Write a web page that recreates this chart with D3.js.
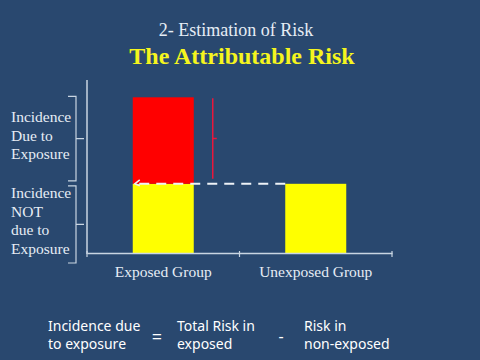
<!DOCTYPE html>
<html>
<head>
<meta charset="utf-8">
<script src="https://cdn.jsdelivr.net/npm/d3@7"></script>
<style>
  html, body { margin: 0; padding: 0; background: #29486f; }
  svg { display: block; }
</style>
</head>
<body>
<script>
// Chart data
const groups = ["Exposed Group", "Unexposed Group"];
const baseRisk = [10, 10];      // incidence NOT due to exposure
const excessRisk = [12.5, 0];   // incidence due to exposure
const leftLabelsTop = ["Incidence", "Due to", "Exposure"];
const leftLabelsBottom = ["Incidence", "NOT", "due to", "Exposure"];

const W = 480, H = 360;
const textColor = "#e6edf5";
const axisColor = "#c9d5e2";
const serif = "'Liberation Serif', 'DejaVu Serif', serif";
const sans = "'Noto Sans', 'Open Sans', sans-serif";

const svg = d3.select("body").append("svg")
    .attr("width", W)
    .attr("height", H);

svg.append("rect").attr("width", W).attr("height", H).attr("fill", "#29486f");

// Titles
svg.append("text")
    .attr("x", 236).attr("y", 36)
    .attr("text-anchor", "middle")
    .style("font-family", serif)
    .style("font-size", "18px")
    .attr("fill", textColor)
    .text("2- Estimation of Risk");

svg.append("text")
    .attr("x", 242).attr("y", 64)
    .attr("text-anchor", "middle")
    .style("font-family", serif)
    .style("font-size", "24px")
    .style("font-weight", "bold")
    .attr("fill", "#f5f51e")
    .text("The Attributable Risk");

// Scales
const x = d3.scaleBand()
    .domain(groups)
    .range([87, 392])
    .paddingInner(0.6)
    .paddingOuter(0.3);

const y = d3.scaleLinear()
    .domain([0, 25])
    .range([253, 80]);

// Bars: yellow base, red excess on top
const rows = groups.map((g, i) => ({ g, base: baseRisk[i], excess: excessRisk[i] }));

svg.selectAll("rect.base")
    .data(rows)
    .enter().append("rect")
    .attr("class", "base")
    .attr("x", d => x(d.g))
    .attr("y", d => y(d.base))
    .attr("width", x.bandwidth())
    .attr("height", d => y(0) - y(d.base))
    .attr("fill", "#ffff00");

svg.selectAll("rect.excess")
    .data(rows.filter(d => d.excess > 0))
    .enter().append("rect")
    .attr("class", "excess")
    .attr("x", d => x(d.g))
    .attr("y", d => y(d.base + d.excess))
    .attr("width", x.bandwidth())
    .attr("height", d => y(d.base) - y(d.base + d.excess))
    .attr("fill", "#ff0000");

// Axes
const xAxis = svg.append("g")
    .attr("transform", `translate(0,${y(0)})`)
    .call(d3.axisBottom(x).tickSize(0).tickPadding(13));
xAxis.select(".domain").attr("stroke", axisColor).attr("stroke-width", 1.5);
xAxis.selectAll("text")
    .style("font-family", serif)
    .style("font-size", "15.5px")
    .attr("fill", textColor);

// small ticks at category boundaries
const step = x.step();
const bounds = [x.range()[0], x(groups[0]) + x.bandwidth() + step * x.paddingInner() / 2, x.range()[1]];
svg.selectAll("line.btick")
    .data(bounds)
    .enter().append("line")
    .attr("x1", d => d).attr("x2", d => d)
    .attr("y1", y(0) - 2).attr("y2", y(0) + 4)
    .attr("stroke", axisColor).attr("stroke-width", 1.2);

svg.append("line")
    .attr("x1", 87).attr("x2", 87)
    .attr("y1", y(25)).attr("y2", y(0) + 1)
    .attr("stroke", axisColor).attr("stroke-width", 1.5);

// Right-facing braces on the left side
function brace(x0, top, bottom, hook, tip) {
    const mid = (top + bottom) / 2;
    return `M${x0 - hook},${top} L${x0},${top} L${x0},${mid} L${x0 + tip},${mid} M${x0},${mid} L${x0},${bottom} L${x0 - hook},${bottom}`;
}

const total0 = baseRisk[0] + excessRisk[0];
svg.append("path")
    .attr("d", brace(76, y(total0) - 1, y(baseRisk[0]) - 3, 8, 8))
    .attr("fill", "none").attr("stroke", axisColor).attr("stroke-width", 1.2);
svg.append("path")
    .attr("d", brace(76, y(baseRisk[0]) + 2, y(0) + 10, 8, 8))
    .attr("fill", "none").attr("stroke", axisColor).attr("stroke-width", 1.2);

// Left labels
const lt = svg.append("text")
    .style("font-family", serif)
    .style("font-size", "15.5px")
    .attr("fill", textColor);
leftLabelsTop.forEach((t, i) => {
    lt.append("tspan").attr("x", 11).attr("y", 122 + i * 18.5).text(t);
});
const lb = svg.append("text")
    .style("font-family", serif)
    .style("font-size", "15.5px")
    .attr("fill", textColor);
leftLabelsBottom.forEach((t, i) => {
    lb.append("tspan").attr("x", 11).attr("y", 198 + i * 18.7).text(t);
});

// Red bracket showing excess risk
const rx = x(groups[0]) + x.bandwidth() + 19;
const rTop = y(total0) + 1, rBot = y(baseRisk[0]) - 5;
svg.append("path")
    .attr("d", `M${rx},${rTop} L${rx},${rBot} M${rx},${(rTop + rBot) / 2} L${rx + 4},${(rTop + rBot) / 2}`)
    .attr("fill", "none").attr("stroke", "#e8173c").attr("stroke-width", 1.5);

// Dashed arrow from unexposed bar top to exposed bar
const ay = y(baseRisk[1]);
const ax0 = x(groups[1]), ax1 = x(groups[0]) + 1;
svg.append("line")
    .attr("x1", ax0).attr("x2", ax1 + 4)
    .attr("y1", ay).attr("y2", ay)
    .attr("stroke", "#eef2f7").attr("stroke-width", 2)
    .attr("stroke-dasharray", "10,7");
svg.append("path")
    .attr("d", `M${ax1 + 6},${ay - 4} L${ax1 + 1},${ay} L${ax1 + 6},${ay + 2}`)
    .attr("fill", "none").attr("stroke", "#eef2f7").attr("stroke-width", 1.5);

// Formula at the bottom
const formula = [
    { x: 48, lines: ["Incidence due", "to exposure"] },
    { x: 177, lines: ["Total Risk in", "exposed"] },
    { x: 304, lines: ["Risk in", "non-exposed"] }
];
formula.forEach(f => {
    const t = svg.append("text")
        .style("font-family", sans)
        .style("font-size", "14px")
        .attr("fill", "#ffffff");
    f.lines.forEach((s, i) => {
        t.append("tspan").attr("x", f.x).attr("y", 331 + i * 18).text(s);
    });
});
svg.append("text")
    .attr("x", 157).attr("y", 343)
    .attr("text-anchor", "middle")
    .style("font-family", sans).style("font-size", "18px")
    .attr("fill", "#ffffff")
    .text("=");
svg.append("text")
    .attr("x", 281).attr("y", 342)
    .attr("text-anchor", "middle")
    .style("font-family", sans).style("font-size", "16px")
    .attr("fill", "#ffffff")
    .text("-");
</script>
</body>
</html>
